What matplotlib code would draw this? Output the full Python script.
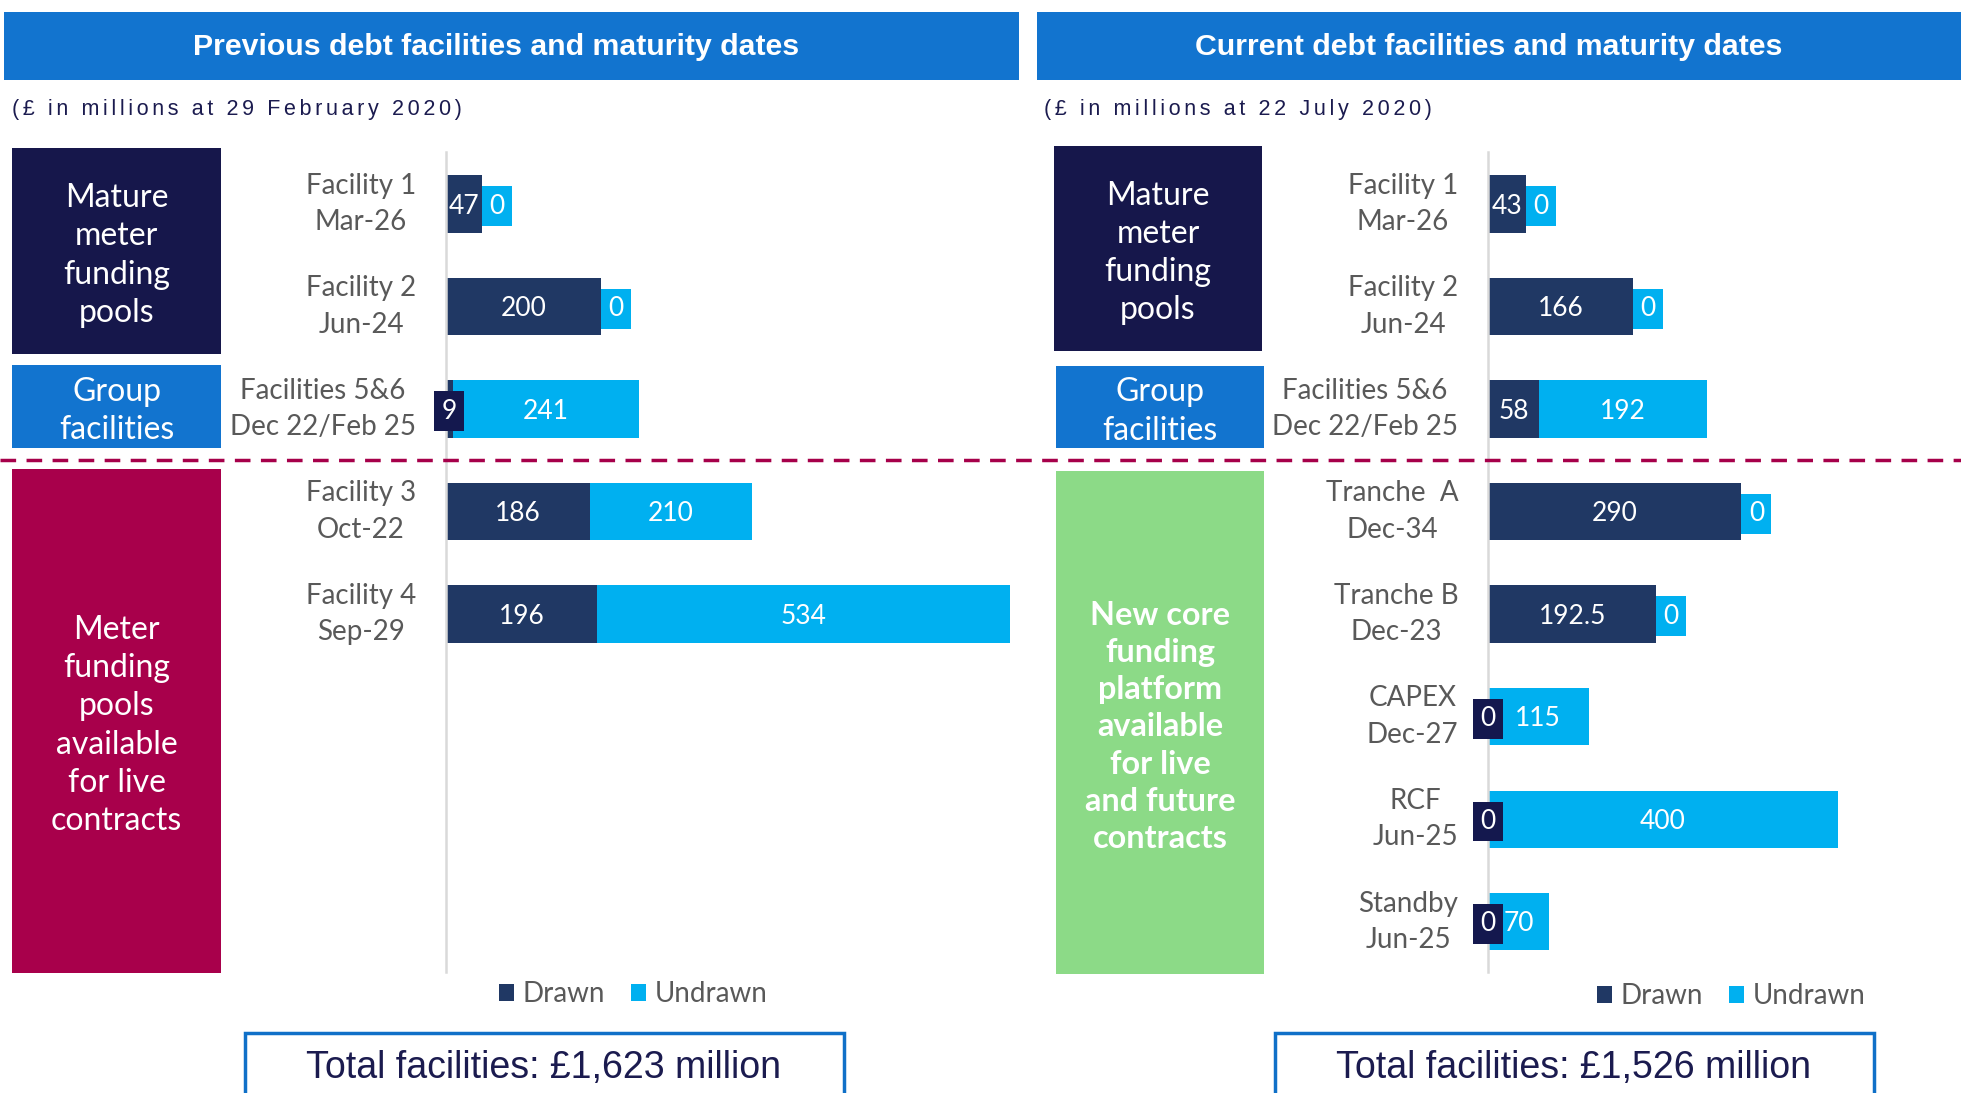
import matplotlib
matplotlib.use("Agg")
import matplotlib.pyplot as plt
from matplotlib.patches import Rectangle
from matplotlib.lines import Line2D

# ---------------- data ----------------
left_title = "Previous debt facilities and maturity dates"
right_title = "Current debt facilities and maturity dates"
left_subtitle = "(£ in millions at 29 February 2020)"
right_subtitle = "(£ in millions at 22 July 2020)"

left_categories = ["Facility 1\nMar-26", "Facility 2\nJun-24", "Facilities 5&6\nDec 22/Feb 25",
                   "Facility 3\nOct-22", "Facility 4\nSep-29"]
left_drawn = [47, 200, 9, 186, 196]
left_undrawn = [0, 0, 241, 210, 534]

right_categories = ["Facility 1\nMar-26", "Facility 2\nJun-24", "Facilities 5&6\nDec 22/Feb 25",
                    "Tranche  A\nDec-34", "Tranche B\nDec-23", "CAPEX\nDec-27", "RCF\nJun-25",
                    "Standby\nJun-25"]
right_drawn = [43, 166, 58, 290, 192.5, 0, 0, 0]
right_undrawn = [0, 0, 192, 0, 0, 115, 400, 70]

series_names = ["Drawn", "Undrawn"]
left_total = "Total facilities: £1,623 million"
right_total = "Total facilities: £1,526 million"

left_groups = ["Mature\nmeter\nfunding\npools", "Group\nfacilities",
               "Meter\nfunding\npools\navailable\nfor live\ncontracts"]
right_groups = ["Mature\nmeter\nfunding\npools", "Group\nfacilities",
                "New core\nfunding\nplatform\navailable\nfor live\nand future\ncontracts"]

# ---------------- style ----------------
W, H = 1961, 1093
DRAWN = "#203864"
UNDRAWN = "#00B0F0"
NAVY_BOX = "#16174B"
BLUE = "#1274CF"
CRIMSON = "#A8004B"
GREEN = "#8CDA87"
GRAY = "#595959"
DARKTXT = "#1B1B4F"
CAL = "Lato"
ARI = "Liberation Sans"

fig = plt.figure(figsize=(W / 100, H / 100), dpi=100)
fig.patch.set_facecolor("white")


def fx(x):
    return x / W


def fy(y):
    return 1 - y / H


def box(x0, y0, x1, y1, color, fill=True, lw=0, ec=None, z=1):
    r = Rectangle((fx(x0), fy(y1)), (x1 - x0) / W, (y1 - y0) / H, transform=fig.transFigure,
                  facecolor=color if fill else "none", edgecolor=ec if ec else "none",
                  linewidth=lw, zorder=z, clip_on=False)
    fig.add_artist(r)


def tracked(s):
    # letter-spaced subtitle (six-per-em spaces between characters)
    return "\u2006".join(s)


# headers
box(4, 12, 1019, 80, BLUE)
box(1037, 12, 1961, 80, BLUE)
fig.text(fx(496), fy(47), left_title, ha="center", va="center", color="white",
         fontsize=21.8, fontweight="bold", family=ARI)
fig.text(fx(1489), fy(47), right_title, ha="center", va="center", color="white",
         fontsize=21.8, fontweight="bold", family=ARI)
fig.text(fx(12), fy(110), tracked(left_subtitle), ha="left", va="center", color=DARKTXT,
         fontsize=15.5, family=[ARI, "DejaVu Sans"])
fig.text(fx(1044), fy(110), tracked(right_subtitle), ha="left", va="center", color=DARKTXT,
         fontsize=15.5, family=[ARI, "DejaVu Sans"])

# group boxes
group_boxes_left = [(12, 148, 221, 354, NAVY_BOX, False), (12, 365, 221, 448, BLUE, False),
                    (12, 469, 221, 973, CRIMSON, False)]
group_boxes_right = [(1054, 146, 1262, 351, NAVY_BOX, False), (1056, 366, 1264, 448, BLUE, False),
                     (1056, 471, 1264, 974, GREEN, True)]
for labels, boxes in ((left_groups, group_boxes_left), (right_groups, group_boxes_right)):
    for lab, (x0, y0, x1, y1, c, bold) in zip(labels, boxes):
        box(x0, y0, x1, y1, c)
        fig.text(fx((x0 + x1) / 2), fy((y0 + y1) / 2 + 4.5), lab, ha="center", va="center",
                 multialignment="center", color="white", fontsize=23.3 if bold else 23,
                 family=CAL, fontweight="bold" if bold else "normal", linespacing=1.34)

# dashed separator
fig.add_artist(Line2D([0, 1], [fy(460), fy(460)], transform=fig.transFigure, color="#A6004A",
                      lw=2.5, linestyle=(0, (4.5, 3)), zorder=5))


def panel(axpos, xmax, cats, drawn, undrawn, legend_center):
    ax = fig.add_axes(axpos)
    ax.set_facecolor("none")
    y = list(range(len(cats)))
    b1 = ax.barh(y, drawn, height=0.56, color=DRAWN, label=series_names[0])
    b2 = ax.barh(y, undrawn, left=drawn, height=0.56, color=UNDRAWN, label=series_names[1])
    ax.set_xlim(0, xmax)
    ax.set_ylim(7.49, -0.507)
    for s in ("top", "right", "bottom"):
        ax.spines[s].set_visible(False)
    ax.spines["left"].set_color("#D9D9D9")
    ax.spines["left"].set_linewidth(1.8)
    ax.set_xticks([])
    ax.set_yticks([])
    dy = -1.6  # points, visual centring of digits
    for i, (c, d, u) in enumerate(zip(cats, drawn, undrawn)):
        ax.annotate(c, xy=(0, i), xytext=(-21.5, 0), textcoords="offset points", ha="right",
                    va="center", multialignment="center", fontsize=20, color=GRAY, family=CAL,
                    linespacing=1.5)
        # drawn label
        if d >= 20:
            ax.annotate(f"{d:g}", xy=(d / 2, i), xytext=(0, dy), textcoords="offset points",
                        ha="center", va="center", color="white", fontsize=19, family=CAL)
        else:
            ax.annotate(f"{d:g}", xy=(d / 2, i), xytext=(0, dy), textcoords="offset points",
                        ha="center", va="center", color="white", fontsize=19, family=CAL,
                        zorder=4, bbox=dict(boxstyle="square,pad=0.28", fc="#14184E", ec="none"))
        # undrawn label
        if u >= 20:
            ax.annotate(f"{u:g}", xy=(d + u / 2, i), xytext=(0, dy), textcoords="offset points",
                        ha="center", va="center", color="white", fontsize=19, family=CAL)
        else:
            ax.annotate(f"{u:g}", xy=(d, i), xytext=(10.8, dy), textcoords="offset points",
                        ha="center", va="center", color="white", fontsize=19, family=CAL,
                        bbox=dict(boxstyle="square,pad=0.28", fc=UNDRAWN, ec="none"))
    ax.legend(handles=[b1, b2], labels=series_names, loc="center",
              bbox_to_anchor=(fx(legend_center[0]), fy(legend_center[1])),
              bbox_transform=fig.transFigure, ncol=2, frameon=False,
              handlelength=0.55, handleheight=0.55, handletextpad=0.3, columnspacing=0.95,
              labelcolor=GRAY, prop={"family": CAL, "size": 20})
    return ax


panel([fx(446), fy(972), (1020 - 446) / W, (972 - 152) / H], (1020 - 446) / 0.7726,
      left_categories, left_drawn, left_undrawn, (633, 994))
panel([fx(1488), fy(972), (1950 - 1488) / W, (972 - 152) / H], (1950 - 1488) / 0.874,
      right_categories, right_drawn, right_undrawn, (1731, 996))

# total boxes
box(245, 1033, 844, 1110, None, fill=False, lw=2.5, ec="#1070C8")
box(1275, 1033, 1874, 1110, None, fill=False, lw=2.5, ec="#1070C8")
fig.text(fx(544), fy(1068), left_total, ha="center", va="center", color=DARKTXT, fontsize=27,
         family=ARI)
fig.text(fx(1574), fy(1068), right_total, ha="center", va="center", color=DARKTXT, fontsize=27,
         family=ARI)

fig.savefig("out.png", dpi=100, facecolor="white")
